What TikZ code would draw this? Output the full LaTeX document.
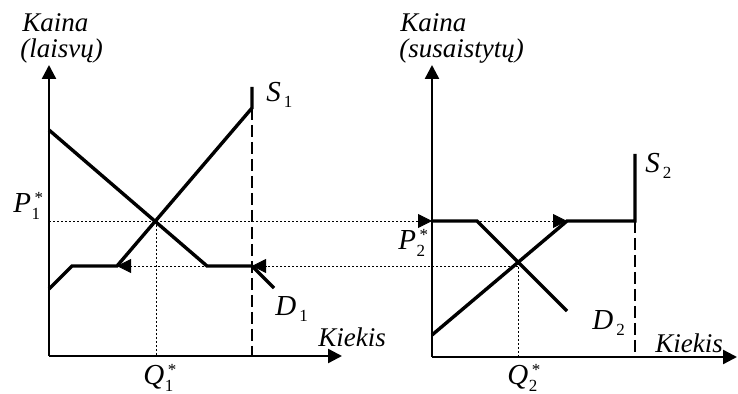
\documentclass[tikz,border=0pt]{standalone}
\usepackage{amsmath}
\usepackage{fontspec}
\setmainfont{Liberation Serif}
\usepackage{tikz}
\usetikzlibrary{arrows.meta,positioning}
\tikzset{
  axis/.style={line width=1.2pt,-{Triangle[length=7pt,width=7pt]}},
  curve/.style={line width=1.7pt,line join=miter},
  limit/.style={line width=1.2pt,dash pattern=on 6pt off 2.5pt},
  guide/.style={line width=0.4pt,dash pattern=on 1pt off 1pt},
  flow/.style={guide,-{Triangle[length=7pt,width=7pt]}},
  lbl/.style={anchor=base west,inner sep=0pt,font=\fontsize{13.5}{15}\selectfont\itshape},
  sym/.style={lbl,font=\fontsize{14.5}{16}\selectfont\itshape}
}
\newcommand{\smallup}{\upshape\fontsize{8.5}{9}\selectfont}
\newcommand{\eqlbl}[2]{#1\kern0.3pt\rlap{\raisebox{-3.5pt}{\smallup #2}}\kern1.5pt\raisebox{4.5pt}{\smallup *}}
\newcommand{\crvlbl}[2]{#1\kern1.5pt\raisebox{-3pt}{\smallup #2}}

\begin{document}
\begin{tikzpicture}[x=0.5pt,y=-0.5pt]
  \useasboundingbox (0,0) rectangle (738,394);

  % left market
  \coordinate (o1) at (49,356);
  \coordinate (e1) at (156,221);
  \coordinate (p1) at (49,221);
  \coordinate (q1) at (156,356);
  \coordinate (s1k) at (117,266);
  \coordinate (s1t) at (252,108);
  \coordinate (d1k) at (252,266);
  \coordinate (cap1) at (252,356);
  \draw[axis] (o1) -- (49,65);
  \draw[axis] (o1) -- (342,356);
  \draw[curve] (49,289) -- (72,266) -- (s1k) -- (s1t) -- (252,87);
  \draw[curve] (49,130) -- (207,266) -- (d1k) -- (274,288);
  \draw[limit] (s1t) -- (cap1);
  \draw[guide] (e1) -- (q1);

  % right market
  \coordinate (o2) at (432,357);
  \coordinate (e2) at (518,263);
  \coordinate (e2l) at (518,266);
  \coordinate (q2) at (518,357);
  \coordinate (p2) at (432,221);
  \coordinate (s2k) at (567,221);
  \coordinate (s2c) at (635,221);
  \coordinate (cap2) at (635,357);
  \draw[axis] (o2) -- (432,65);
  \draw[axis] (o2) -- (737,357);
  \draw[curve] (432,335) -- (s2k) -- (s2c) -- (635,154);
  \draw[curve] (p2) -- (477,221) -- (567,311);
  \draw[limit] (s2c) -- (cap2);
  \draw[guide] (e2) -- (q2);

  % price links
  \draw[guide] (p1) -- (e1);
  \draw[flow] (e1) -- (p2);
  \draw[flow] (p2) -- (s2k);
  \draw[flow] (e2l) -- (d1k);
  \draw[flow] (d1k) -- (s1k);

  \node[lbl] (k1) at (22,32) {Kaina};
  \node[lbl] (k1b) at (20,58) {(laisvų)};
  \node[lbl] (k2) at (400,32) {Kaina};
  \node[lbl] (k2b) at (399,58) {(susaistytų)};
  \node[sym] (lp1) at (13,213) {\eqlbl{P}{1}};
  \node[sym] (lq1) at (143,385) {\eqlbl{Q}{1}};
  \node[sym] (ls1) at (266,102) {\crvlbl{S}{1}};
  \node[sym] (ld1) at (275,316) {\crvlbl{D}{1}};
  \node[lbl] (lx1) at (318,347) {Kiekis};
  \node[sym] (lp2) at (398,250) {\eqlbl{P}{2}};
  \node[sym] (lq2) at (507,385) {\eqlbl{Q}{2}};
  \node[sym] (ls2) at (645,173) {\crvlbl{S}{2}};
  \node[sym] (ld2) at (592,330) {\crvlbl{D}{2}};
  \node[lbl] (lx2) at (655,353) {Kiekis};
\end{tikzpicture}
\end{document}
